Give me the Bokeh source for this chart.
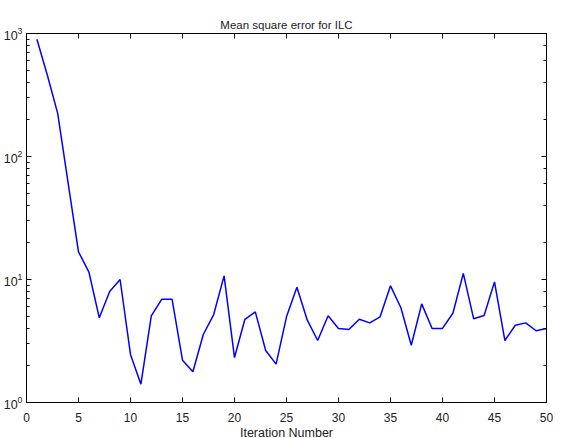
from bokeh.plotting import figure
from bokeh.models import LinearAxis, LogAxis, FixedTicker, Range1d, CustomJSTickFormatter
from bokeh.embed import file_html
from bokeh.resources import INLINE

iterations = list(range(1, 51))
mse = [899, 460, 224, 61, 16.8, 11.5, 4.88, 8.0, 10.0, 2.46,
       1.41, 5.07, 6.9, 6.9, 2.21, 1.78, 3.57, 5.19, 10.7, 2.32,
       4.75, 5.46, 2.65, 2.05, 4.97, 8.66, 4.67, 3.19, 5.07, 4.0,
       3.92, 4.75, 4.44, 4.97, 8.88, 5.89, 2.92, 6.34, 4.0, 4.0,
       5.32, 11.2, 4.79, 5.1, 9.57, 3.19, 4.25, 4.44, 3.83, 4.0]
x_ticks = [0, 5, 10, 15, 20, 25, 30, 35, 40, 45, 50]

FONT = "Liberation Sans"

p = figure(y_axis_type="log",
           x_range=Range1d(0, 50), y_range=Range1d(1, 1000),
           output_backend="svg", toolbar_location=None,
           title="Mean square error for ILC",
           x_axis_label="Iteration Number")
p.frame_width = 520
p.frame_height = 369
p.min_border_left = 26
p.min_border_right = 8
p.min_border_top = 33
p.min_border_bottom = 33

p.title.align = "center"
p.title.text_font = FONT
p.title.text_font_style = "normal"
p.title.text_font_size = "11.5px"
p.title.text_color = "#222222"
p.title.standoff = 6

p.grid.visible = False
p.outline_line_color = "black"
p.outline_line_width = 1

def style(ax, labels=True):
    ax.axis_line_color = "black"
    ax.major_tick_in = 5
    ax.major_tick_out = 0
    ax.minor_tick_in = 3
    ax.minor_tick_out = 0
    ax.major_label_text_font = FONT
    ax.major_label_text_font_size = "11px"
    ax.major_label_text_color = "#222222"
    ax.major_label_standoff = 5
    ax.axis_label_text_font = FONT
    ax.axis_label_text_font_style = "normal"
    ax.axis_label_text_font_size = "12.5px"
    ax.axis_label_text_color = "#222222"
    ax.axis_label_standoff = 1
    if not labels:
        ax.formatter = CustomJSTickFormatter(code="return ''")
        ax.major_label_standoff = 0

p.xaxis.ticker = FixedTicker(ticks=x_ticks)
p.xaxis.minor_tick_line_color = None
style(p.xaxis[0])
style(p.yaxis[0])
p.xaxis.major_label_standoff = 10
p.xaxis.major_label_text_font_size = "12px"
p.yaxis.major_label_standoff = 4
p.yaxis.major_label_text_font_size = "12.5px"

top = LinearAxis(ticker=FixedTicker(ticks=x_ticks))
style(top, labels=False)
top.minor_tick_line_color = None
p.add_layout(top, "above")

right = LogAxis()
style(right, labels=False)
p.add_layout(right, "right")

p.line(iterations, mse, line_color="blue", line_width=1.5)

open("out.html", "w").write(file_html(p, INLINE))
